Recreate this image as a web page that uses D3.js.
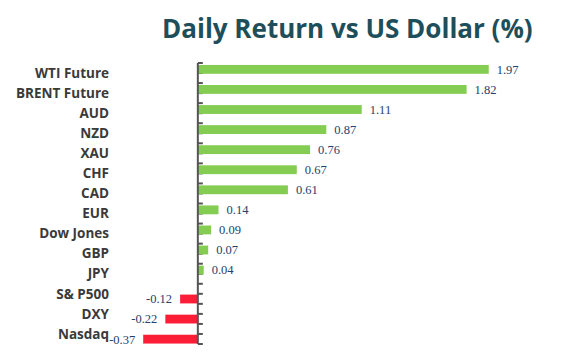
<!DOCTYPE html>
<meta charset="utf-8">
<style>
body { margin: 0; background: #fff; }
.title { font-family: "Open Sans", sans-serif; font-weight: 700; font-size: 26px; fill: #1f4e5b; }
.cat { font-family: "Open Sans", sans-serif; font-weight: 700; font-size: 13.5px; fill: #3a3a3a; }
.val { font-family: "Liberation Serif", serif; font-size: 12.5px; fill: #24416b; }
.axis-line, .tick { stroke: #555; stroke-width: 2; }
</style>
<svg width="580" height="361"></svg>
<script src="https://cdn.jsdelivr.net/npm/d3@7"></script>
<script>

var categories = ["WTI Future", "BRENT Future", "AUD", "NZD", "XAU", "CHF", "CAD",
                  "EUR", "Dow Jones", "GBP", "JPY", "S& P500", "DXY", "Nasdaq"];
var values = [1.97, 1.82, 1.11, 0.87, 0.76, 0.67, 0.61, 0.14, 0.09, 0.07, 0.04, -0.12, -0.22, -0.37];
var series = ["up", "down"];

var data = categories.map(function(c, i) { return {name: c, value: values[i]}; });

var svg = d3.select("svg");

var x = d3.scaleLinear()
    .domain([-0.5, 2.5])
    .range([124, 567]);

var y = d3.scaleBand()
    .domain(categories)
    .range([63, 344]);

// excel style: positive and negative series side by side in each category
var sub = d3.scaleBand()
    .domain(series)
    .range([1.5, y.bandwidth()])
    .paddingOuter(0.05);

var colour = {up: "#85cc52", down: "#fb1e36"};

svg.append("text")
    .attr("class", "title")
    .attr("x", 162)
    .attr("y", 38)
    .text("Daily Return vs US Dollar (%)");

// tick marks at every half band
var tickYs = [];
categories.forEach(function(c) {
  tickYs.push(y(c), y(c) + y.bandwidth() / 2);
});
tickYs.push(y.range()[1]);

svg.append("g")
  .selectAll("line")
  .data(tickYs)
  .enter().append("line")
    .attr("class", "tick")
    .attr("x1", x(0))
    .attr("x2", x(0) + 5)
    .attr("y1", function(d) { return d; })
    .attr("y2", function(d) { return d; });

svg.append("g")
  .selectAll("rect")
  .data(data)
  .enter().append("rect")
    .attr("x", function(d) { return x(Math.min(0, d.value)); })
    .attr("width", function(d) { return Math.abs(x(d.value) - x(0)); })
    .attr("y", function(d) { return y(d.name) + sub(d.value >= 0 ? "up" : "down"); })
    .attr("height", sub.bandwidth())
    .attr("fill", function(d) { return colour[d.value >= 0 ? "up" : "down"]; });

svg.append("line")
    .attr("class", "axis-line")
    .attr("x1", x(0))
    .attr("x2", x(0))
    .attr("y1", y.range()[0])
    .attr("y2", y.range()[1]);

svg.append("g")
  .selectAll("text")
  .data(data)
  .enter().append("text")
    .attr("class", "val")
    .attr("x", function(d) { return d.value >= 0 ? x(d.value) + 8 : x(d.value) - 8; })
    .attr("y", function(d) { return y(d.name) + sub(d.value >= 0 ? "up" : "down") + sub.bandwidth() / 2; })
    .attr("dy", "0.35em")
    .attr("text-anchor", function(d) { return d.value >= 0 ? "start" : "end"; })
    .text(function(d) { return d.value.toFixed(2); });

svg.append("g")
  .selectAll("text")
  .data(categories)
  .enter().append("text")
    .attr("class", "cat")
    .attr("x", 109)
    .attr("y", function(d) { return y(d) + y.bandwidth() / 2; })
    .attr("dy", "0.35em")
    .attr("text-anchor", "end")
    .text(function(d) { return d; });

</script>
